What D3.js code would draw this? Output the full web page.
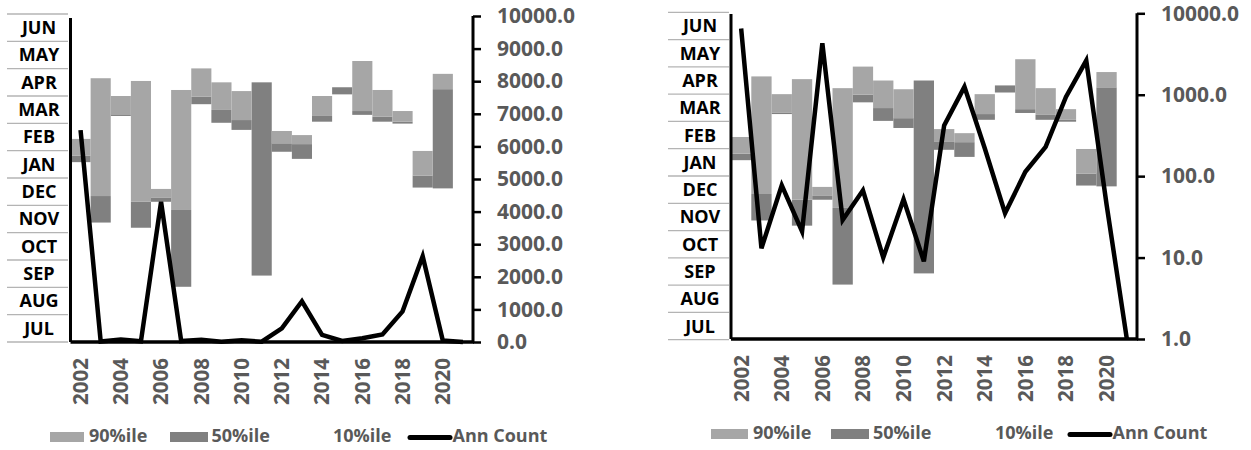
<!DOCTYPE html>
<html>
<head>
<meta charset="utf-8">
<script src="https://cdn.jsdelivr.net/npm/d3@7"></script>
<style>
  html, body { margin: 0; padding: 0; background: #fff; }
  svg { display: block; font-family: "Open Sans", "Noto Sans", sans-serif; font-weight: bold; }
</style>
</head>
<body>
<svg id="chart" width="1251" height="450"></svg>
<script>
// ---------- data ----------
const years = ["2002","2003","2004","2005","2006","2007","2008","2009","2010","2011",
               "2012","2013","2014","2015","2016","2017","2018","2019","2020","2021"];
// percentile dates, in months after 1 July (0 = start of JUL, 12 = end of JUN)
const p10 = [6.58, 4.37, 8.27, 4.18, 5.13, 2.02, 8.70, 8.02, 7.76, 2.43,
             6.96, 6.70, 8.06, 9.06, 8.31, 8.06, 7.99, 5.65, 5.62, null];
const p50 = [6.82, 5.34, 8.33, 5.13, 5.29, 4.83, 8.98, 8.49, 8.12, 9.50,
             7.27, 7.24, 8.27, 9.32, 8.45, 8.24, 8.06, 6.09, 9.25, null];
const p90 = [7.43, 9.65, 9.00, 9.55, 5.60, 9.22, 10.01, 9.50, 9.18, 9.50,
             7.72, 7.57, 9.00, 9.32, 10.28, 9.22, 8.45, 6.99, 9.81, null];
const annCount = [6500, 13, 77, 21, 4300, 29, 67, 10, 52, 9,
                  420, 1250, 220, 35, 113, 229, 940, 2630, 45, 1];
const months = ["JUL","AUG","SEP","OCT","NOV","DEC","JAN","FEB","MAR","APR","MAY","JUN"];
const linTicks = [0,1000,2000,3000,4000,5000,6000,7000,8000,9000,10000];
const logTicks = [1,10,100,1000,10000];
const yearTicks = ["2002","2004","2006","2008","2010","2012","2014","2016","2018","2020"];
const legendLabels = ["90%ile","50%ile","10%ile","Ann Count"];

// ---------- styles ----------
const LIGHT = "#a6a6a6", DARK = "#808080", GRAYTXT = "#595959";
const svg = d3.select("#chart");

function drawPanel(cfg) {
  const g = svg.append("g");
  const x = d3.scaleBand().domain(years).range([cfg.left, cfg.right]).paddingInner(0).paddingOuter(0);
  const yM = d3.scaleLinear().domain([0, 12]).range([cfg.mBottom, cfg.mTop]);
  const yC = cfg.log
    ? d3.scaleLog().domain([1, 10000]).range([cfg.bottom, cfg.cTop])
    : d3.scaleLinear().domain([0, 10000]).range([cfg.bottom, cfg.cTop]);

  // month label table
  const sepY = d3.range(13).map(i => yM(i));
  g.selectAll(".sep").data(sepY).join("line")
    .attr("x1", cfg.tblX0).attr("x2", cfg.tblX1)
    .attr("y1", d => d).attr("y2", d => d)
    .attr("stroke", "#b4b4b4").attr("stroke-width", 1.3);
  g.selectAll(".mon").data(months).join("text")
    .attr("x", cfg.tblC)
    .attr("y", (d, i) => (yM(i) + yM(i + 1)) / 2)
    .attr("dy", "0.36em")
    .attr("text-anchor", "middle")
    .attr("font-size", 18).attr("fill", "#000")
    .text(d => d);

  const idx = years.map((d, i) => i).filter(i => p10[i] !== null);
  // 50%ile segment (10 -> 50)
  g.selectAll(".b50").data(idx).join("rect")
    .attr("x", i => x(years[i])).attr("width", x.bandwidth())
    .attr("y", i => yM(p50[i])).attr("height", i => yM(p10[i]) - yM(p50[i]))
    .attr("fill", DARK);
  // 90%ile segment (50 -> 90)
  g.selectAll(".b90").data(idx).join("rect")
    .attr("x", i => x(years[i])).attr("width", x.bandwidth())
    .attr("y", i => yM(p90[i])).attr("height", i => yM(p50[i]) - yM(p90[i]))
    .attr("fill", LIGHT);

  // axes lines
  g.append("line").attr("x1", cfg.left).attr("x2", cfg.left)
    .attr("y1", cfg.leftAxisTop).attr("y2", cfg.bottom)
    .attr("stroke", "#000").attr("stroke-width", 3);
  // right value axis
  const ticks = cfg.log ? logTicks : linTicks;
  const axisR = d3.axisRight(yC).tickValues(ticks).tickSize(8).tickPadding(16)
    .tickFormat(d3.format(".1f"));
  const ag = g.append("g").attr("transform", `translate(${cfg.right},0)`).call(axisR);
  ag.select(".domain").attr("stroke", "#000").attr("stroke-width", 3)
    .attr("d", `M0,${cfg.cTop}V${cfg.bottom}`);
  ag.selectAll(".tick line").attr("stroke", "#000").attr("stroke-width", 2.5);
  ag.selectAll(".tick text").attr("fill", GRAYTXT).attr("font-size", 21)
    .attr("font-weight", "bold").attr("font-family", "Open Sans, Noto Sans, sans-serif");

  // x axis
  g.append("line").attr("x1", cfg.left).attr("x2", cfg.right + 1)
    .attr("y1", cfg.bottom).attr("y2", cfg.bottom)
    .attr("stroke", "#000").attr("stroke-width", 3.5);
  g.selectAll(".yr").data(yearTicks).join("text")
    .attr("transform", d => `translate(${x(d) + x.bandwidth() / 2},${cfg.bottom + 16}) rotate(-90)`)
    .attr("text-anchor", "end").attr("dy", "0.36em")
    .attr("font-size", 20.5).attr("fill", GRAYTXT)
    .text(d => d);

  // Ann Count line
  const line = d3.line()
    .x((d, i) => x(years[i]) + x.bandwidth() / 2)
    .y(d => yC(d));
  g.append("path").datum(annCount).attr("d", line)
    .attr("fill", "none").attr("stroke", "#000").attr("stroke-width", 4.5)
    .attr("stroke-linejoin", "miter").attr("stroke-miterlimit", 4);

  // legend
  const L = cfg.legend;
  const lg = g.append("g").attr("font-size", 18).attr("fill", GRAYTXT);
  lg.append("rect").attr("x", L.sw1[0]).attr("width", L.sw1[1] - L.sw1[0])
    .attr("y", L.base - 10).attr("height", 10).attr("fill", LIGHT);
  lg.append("text").attr("x", L.t1).attr("y", L.base).text(legendLabels[0]);
  lg.append("rect").attr("x", L.sw2[0]).attr("width", L.sw2[1] - L.sw2[0])
    .attr("y", L.base - 10).attr("height", 10).attr("fill", DARK);
  lg.append("text").attr("x", L.t2).attr("y", L.base).text(legendLabels[1]);
  lg.append("text").attr("x", L.t3).attr("y", L.base).text(legendLabels[2]);
  lg.append("line").attr("x1", L.ln[0]).attr("x2", L.ln[1])
    .attr("y1", L.base - 4.5).attr("y2", L.base - 4.5)
    .attr("stroke", "#000").attr("stroke-width", 5).attr("stroke-linecap", "round");
  lg.append("text").attr("x", L.t4).attr("y", L.base).text(legendLabels[3]);
}

drawPanel({
  log: false, left: 70.5, right: 473, bottom: 342, cTop: 16, mBottom: 342, mTop: 14,
  leftAxisTop: 18, tblX0: 7, tblX1: 68, tblC: 39,
  legend: { base: 442, sw1: [50, 84], t1: 89, sw2: [170, 208], t2: 211.5, t3: 333, ln: [410, 450], t4: 452.5 }
});
drawPanel({
  log: true, left: 731, right: 1137, bottom: 339, cTop: 13.3, mBottom: 339.7, mTop: 12.3,
  leftAxisTop: 14, tblX0: 668, tblX1: 729, tblC: 700,
  legend: { base: 439, sw1: [711, 748], t1: 753, sw2: [831, 869], t2: 873, t3: 995, ln: [1070, 1110], t4: 1112.5 }
});
</script>
</body>
</html>
